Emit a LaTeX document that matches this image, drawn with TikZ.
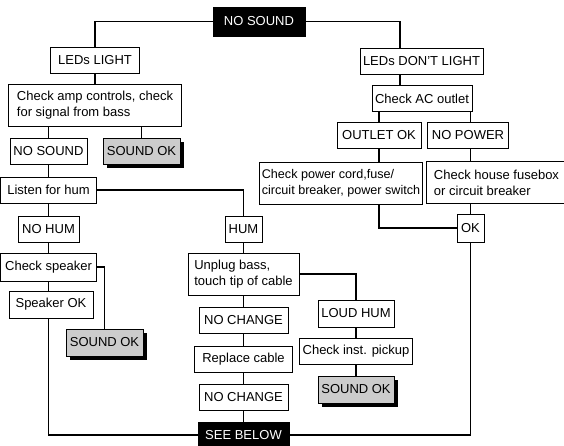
\documentclass[tikz,border=0pt]{standalone}
\usepackage{fontspec}
\setmainfont{Liberation Sans}
\usepackage{tikz}
\usetikzlibrary{shadows}

\begin{document}
\begin{tikzpicture}[x=1pt, y=-1pt,
        box/.style={draw, line width=0.8pt, fill=white, inner xsep=3pt, inner ysep=2pt,
            minimum height=26pt, font=\fontsize{13}{16}\selectfont},
        twoline/.style={box, align=left, minimum height=42pt},
        dark/.style={box, fill=black, text=white},
        good/.style={box, fill=black!20,
            drop shadow={shadow xshift=4pt, shadow yshift=-4pt, fill=black, opacity=1}},
        link/.style={line width=1.8pt}]
                                            \useasboundingbox (0,0) rectangle (564,445);
                                            \node[dark, minimum width=92, minimum height=29] (top) at (259,21.5) {NO SOUND};
                                            \node[box, minimum width=89] (leds) at (95,60) {LEDs LIGHT};
                                            \node[twoline, minimum width=173] (amp) at (95,105.5) {Check amp controls, check\\for signal from bass};
                                            \node[box, minimum width=77] (nosnd) at (48.5,151.5) {NO SOUND};
                                            \node[good, minimum width=77] (sok1) at (141.5,151) {SOUND OK};
                                            \node[box, minimum width=96] (listen) at (48.5,190) {Listen for hum};
                                            \node[box, minimum width=61] (nohum) at (48.5,229.5) {NO HUM};
                                            \node[box, minimum width=37] (hum) at (243.5,229.5) {HUM};
                                            \node[box, minimum width=96, minimum height=28] (spk) at (48.5,267) {Check speaker};
                                            \node[box, minimum width=84, minimum height=27] (spkok) at (51,304.5) {Speaker OK};
                                            \node[good, minimum width=77, minimum height=27] (sok2) at (104.5,342.5) {SOUND OK};
                                            \node[twoline, minimum width=111] (unplug) at (243.5,274) {Unplug bass,\\touch tip of cable};
                                            \node[box, minimum width=89] (nochg1) at (243.5,320) {NO CHANGE};
                                            \node[box, minimum width=98] (cable) at (243.5,359) {Replace cable};
                                            \node[box, minimum width=89] (nochg2) at (243.5,397) {NO CHANGE};
                                            \node[dark, minimum width=91] (below) at (243.5,435) {SEE BELOW};
                                            \node[box, minimum width=76, minimum height=27] (loud) at (356,313.5) {LOUD HUM};
                                            \node[box, minimum width=113] (pickup) at (356,351) {Check inst. pickup};
                                            \node[good, minimum width=76, minimum height=27] (sok3) at (356,389.5) {SOUND OK};
                                            \node[box, minimum width=27, minimum height=28] (ok) at (470.5,228) {OK};
                                            \node[box, minimum width=121] (nolight) at (421.5,61) {LEDs DON'T LIGHT};
                                            \node[box, minimum width=100] (ac) at (422,98.5) {Check AC outlet};
                                            \node[box, minimum width=84] (outok) at (379,135.5) {OUTLET OK};
                                            \node[box, minimum width=81] (nopow) at (468,135.5) {NO POWER};
                                            \node[twoline, minimum width=162, inner xsep=2pt, font=\fontsize{12.6}{16}\selectfont] (cord) at (341,183) {Check power cord,fuse/\\circuit breaker, power switch};
                                            \node[twoline, minimum width=140] (fuse) at (496.5,182.5) {Check house fusebox\\or circuit breaker};
                                            \draw[link] (top.west) -| (leds.north);
                                            \draw[link] (top.east) -| ([xshift=-21.5pt]nolight.north);
                                            \draw[link] (leds) -- (amp);
                                            \draw[link] (nosnd.north |- amp.south) -- (nosnd.north);
                                            \draw[link] (sok1.north |- amp.south) -- (sok1.north);
                                            \draw[link] (nosnd) -- (listen);
                                            \draw[link] (listen) -- (nohum);
                                            \draw[link] (listen.east) -| (hum.north);
                                            \draw[link] (nohum) -- (spk);
                                            \draw[link] (spk.east) -| (sok2.north);
                                            \draw[link] (spk.south) -- (spk.south |- spkok.north);
                                            \draw[link] (spk.south |- spkok.south) |- (below.west);
                                            \draw[link] (hum) -- (unplug);
                                            \draw[link] (unplug) -- (nochg1);
                                            \draw[link] (nochg1) -- (cable);
                                            \draw[link] (cable) -- (nochg2);
                                            \draw[link] (nochg2) -- (below);
                                            \draw[link] (unplug.east) -| (loud.north);
                                            \draw[link] (loud) -- (pickup);
                                            \draw[link] (pickup) -- (sok3);
                                            \draw[link] ([xshift=-21.5pt]nolight.south) -- ([xshift=-21.5pt]nolight.south |- ac.north);
                                            \draw[link] (ac.south -| outok) -- (outok.north);
                                            \draw[link] (outok.south) -- (cord.north -| outok);
                                            \draw[link] (cord.south -| outok) |- (ok.west);
                                            \draw[link] (ac.south -| ok) -- (nopow.north -| ok);
                                            \draw[link] (nopow.south -| ok) -- (fuse.north -| ok);
                                            \draw[link] (fuse.south -| ok) -- (ok.north);
                                            \draw[link] (ok.south) |- (below.east);
                                        \end{tikzpicture}
\end{document}
